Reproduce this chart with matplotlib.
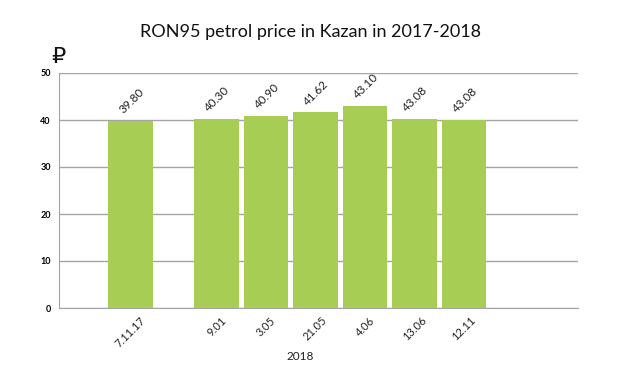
import matplotlib.pyplot as plt

# data
dates = ["7.11.17", "9.01", "3.05", "21.05", "4.06", "13.06", "12.11"]
positions = [0, 1.74, 2.74, 3.74, 4.74, 5.74, 6.74]
heights = [39.8, 40.25, 40.85, 41.6, 43.05, 40.2, 40.0]   # drawn bar heights
labels = ["39.80", "40.30", "40.90", "41.62", "43.10", "43.08", "43.08"]
yticks = [0, 10, 20, 30, 40, 50]

plt.rcParams['font.family'] = ['Lato', 'DejaVu Sans']

fig = plt.figure(figsize=(6.2, 3.71), dpi=100)
ax = fig.add_axes([59 / 620, 1 - 308 / 371, 519 / 620, 235 / 371])

ax.bar(positions, heights, width=0.9, color='#a8cd55', zorder=3)
for x, h, lab in zip(positions, heights, labels):
    ax.text(x - 0.12, h + 1.1, lab, rotation=45, ha='left', va='bottom',
            rotation_mode='anchor', fontsize=8.5, color='#222222')

ax.set_xlim(-1.44, 9.04)
ax.set_ylim(0, 50)
ax.set_yticks(yticks)
ax.set_yticklabels([str(v) for v in yticks], fontsize=6.5, fontweight='bold')
ax.yaxis.grid(True, color='#a4a4a4', linewidth=1, zorder=0)
ax.tick_params(axis='y', length=0, pad=6)
ax.set_xticks(positions)
ax.set_xticklabels(dates, rotation=45, ha='center', fontsize=8,
                   color='#222222')
ax.tick_params(axis='x', length=0, pad=5)

for s in ['top', 'right']:
    ax.spines[s].set_visible(False)
ax.spines['left'].set_color('#a4a4a4')
ax.spines['bottom'].set_color('#a4a4a4')

fig.text(0.5, 1 - 32 / 371, "RON95 petrol price in Kazan in 2017-2018",
         ha='center', va='center', fontsize=13, color='#111111')
fig.text(58 / 620, 1 - 57 / 371, "\u20bd", ha='center', va='center',
         fontsize=16, family='DejaVu Sans', color='#111111')
fig.text(300 / 620, 1 - 356 / 371, "2018", ha='center', va='center',
         fontsize=8.5, color='#222222')

fig.savefig("out.png", dpi=100)
